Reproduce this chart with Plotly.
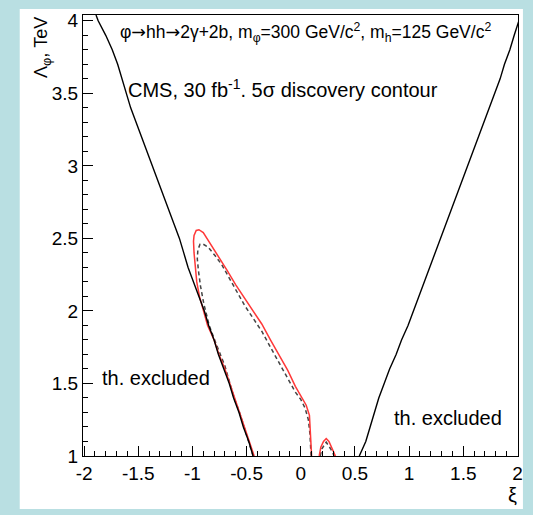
import plotly.graph_objects as go

# Theoretical exclusion boundary (two branches), Lambda_phi in TeV vs xi
lam_bound = [1.0, 1.1, 1.2, 1.3, 1.4, 1.5, 1.6, 1.7, 1.8, 1.9, 2.0, 2.1, 2.2, 2.3, 2.4, 2.5,
             2.6, 2.7, 2.8, 2.9, 3.0, 3.1, 3.2, 3.3, 3.4, 3.5, 3.6, 3.7, 3.8, 3.9, 4.0, 4.04]
xi_bound_left = [-0.44, -0.48, -0.53, -0.57, -0.62, -0.66, -0.71, -0.76, -0.80, -0.85, -0.89,
                 -0.94, -0.99, -1.04, -1.08, -1.12, -1.17, -1.22, -1.27, -1.32, -1.37, -1.42,
                 -1.47, -1.52, -1.57, -1.61, -1.65, -1.69, -1.74, -1.80, -1.87, -1.89]
xi_bound_right = [0.54, 0.60, 0.64, 0.68, 0.72, 0.77, 0.82, 0.88, 0.93, 0.99, 1.04, 1.09, 1.14,
                  1.19, 1.24, 1.29, 1.34, 1.39, 1.44, 1.49, 1.54, 1.59, 1.64, 1.69, 1.74, 1.79,
                  1.84, 1.88, 1.93, 1.97, 2.01, 2.03]

# 5 sigma discovery contour (solid red)
xi_red = [-0.43, -0.475, -0.52, -0.56, -0.61, -0.65, -0.70, -0.755, -0.80, -0.86, -0.90, -0.935,
          -0.96, -0.975, -0.985, -0.99, -0.985, -0.965, -0.94, -0.90, -0.84, -0.76, -0.68,
          -0.60, -0.52, -0.44, -0.36, -0.28, -0.20, -0.12, -0.05, 0.01, 0.05, 0.08, 0.09, 0.10]
lam_red = [1.0, 1.1, 1.2, 1.3, 1.4, 1.5, 1.6, 1.7, 1.8, 1.9, 2.0, 2.1, 2.2, 2.3, 2.4, 2.48,
           2.52, 2.555, 2.56, 2.54, 2.47, 2.38, 2.28, 2.18, 2.09, 2.00, 1.91, 1.80, 1.70, 1.59,
           1.48, 1.40, 1.35, 1.28, 1.15, 1.0]
xi_red_bump = [0.17, 0.185, 0.21, 0.235, 0.26, 0.29, 0.32]
lam_red_bump = [1.0, 1.06, 1.10, 1.12, 1.10, 1.05, 1.0]

# Discovery contour, alternative estimate (dashed)
xi_dash = [-0.44, -0.48, -0.525, -0.565, -0.615, -0.655, -0.70, -0.785, -0.845, -0.895, -0.925,
           -0.945, -0.955, -0.95, -0.93, -0.90, -0.855, -0.79, -0.73, -0.64, -0.55, -0.52, -0.44,
           -0.36, -0.28, -0.20, -0.12, -0.05, 0.00, 0.04, 0.07, 0.085, 0.095]
lam_dash = [1.0, 1.1, 1.2, 1.3, 1.4, 1.5, 1.62, 1.78, 1.90, 2.05, 2.17, 2.28, 2.36, 2.42, 2.46,
            2.46, 2.44, 2.38, 2.32, 2.20, 2.08, 2.04, 1.95, 1.86, 1.75, 1.64, 1.54, 1.44, 1.39,
            1.33, 1.25, 1.15, 1.0]
xi_dash_bump = [0.18, 0.195, 0.235, 0.275, 0.31]
lam_dash_bump = [1.0, 1.05, 1.095, 1.05, 1.0]

x_ticks = [-2, -1.5, -1, -0.5, 0, 0.5, 1, 1.5, 2]
x_tick_text = ["-2", "-1.5", "-1", "-0.5", "0", "0.5", "1", "1.5", "2"]
y_ticks = [1, 1.5, 2, 2.5, 3, 3.5, 4]
y_tick_text = ["1", "1.5", "2", "2.5", "3", "3.5", "4"]

FONT = "Liberation Sans, Arial, Helvetica, sans-serif"
TEAL = "#b9dfe2"
ARROW = '<span style="font-family:DejaVu Sans">→</span>'

fig = go.Figure()
fig.add_trace(go.Scatter(x=xi_dash, y=lam_dash, mode="lines",
                         line=dict(color="#444444", width=1.5, dash="4px,3px")))
fig.add_trace(go.Scatter(x=xi_dash_bump, y=lam_dash_bump, mode="lines",
                         line=dict(color="#444444", width=1.5, dash="4px,3px")))
fig.add_trace(go.Scatter(x=xi_red, y=lam_red, mode="lines",
                         line=dict(color="#ff3838", width=1.5)))
fig.add_trace(go.Scatter(x=xi_red_bump, y=lam_red_bump, mode="lines",
                         line=dict(color="#ff3838", width=1.5)))
for xs in (xi_bound_left, xi_bound_right):
    fig.add_trace(go.Scatter(x=xs, y=lam_bound, mode="lines",
                             line=dict(color="black", width=1.4)))

# paper coordinates from pixel positions of the plot frame
L, R, T, B = 83, 523, 14, 456


def px(x):
    return (x - L) / (R - L)


def py(y):
    return (B - y) / (B - T)


fig.add_shape(type="rect", xref="paper", yref="paper", layer="below",
              x0=px(19), x1=px(528), y0=py(509), y1=py(8),
              fillcolor="white", line=dict(width=0))

ann = [
    dict(text=f"φ{ARROW}hh{ARROW}2γ+2b, m<sub>φ</sub>=300 GeV/c<sup>2</sup>, "
              "m<sub>h</sub>=125 GeV/c<sup>2</sup>",
         x=px(118), y=py(32), xanchor="left", yanchor="middle", size=17.5),
    dict(text="CMS, 30 fb<sup>-1</sup>. 5σ discovery contour",
         x=px(126), y=py(88), xanchor="left", yanchor="middle", size=20),
    dict(text="th. excluded", x=px(100), y=py(378), xanchor="left", yanchor="middle", size=20),
    dict(text="th. excluded", x=px(396), y=py(418), xanchor="left", yanchor="middle", size=20),
    dict(text="ξ", x=px(517), y=py(495), xanchor="center", yanchor="middle", size=20),
]
for a in ann:
    fig.add_annotation(text=a["text"], x=a["x"], y=a["y"], xref="paper", yref="paper",
                       xanchor=a["xanchor"], yanchor=a["yanchor"], showarrow=False,
                       font=dict(family=FONT, size=a["size"], color="black"))
fig.add_annotation(text="Λ<sub>φ</sub>, TeV", x=px(42), y=py(14), xref="paper", yref="paper",
                   xanchor="center", yanchor="top", textangle=-90, showarrow=False,
                   font=dict(family=FONT, size=18, color="black"))

axis_common = dict(ticks="inside", ticklen=10, tickwidth=1, tickcolor="black",
                   showline=True, linecolor="black", linewidth=1, mirror=True,
                   showgrid=False, zeroline=False,
                   tickfont=dict(family=FONT, size=19, color="black"))

fig.update_layout(
    width=533, height=515,
    margin=dict(l=L, r=533 - R, t=T, b=515 - B),
    paper_bgcolor=TEAL, plot_bgcolor="white",
    showlegend=False,
    xaxis=dict(range=[-2.01, 2.005], tickmode="array", tickvals=x_ticks, ticktext=x_tick_text,
               minor=dict(tickmode="linear", tick0=0, dtick=0.1, ticks="inside", ticklen=5,
                          tickcolor="black", tickwidth=1),
               **axis_common),
    yaxis=dict(range=[1.0, 4.04], tickmode="array", tickvals=y_ticks, ticktext=y_tick_text,
               minor=dict(tickmode="linear", tick0=0, dtick=0.1, ticks="inside", ticklen=5,
                          tickcolor="black", tickwidth=1),
               **axis_common),
)

fig.write_html("out.html")
